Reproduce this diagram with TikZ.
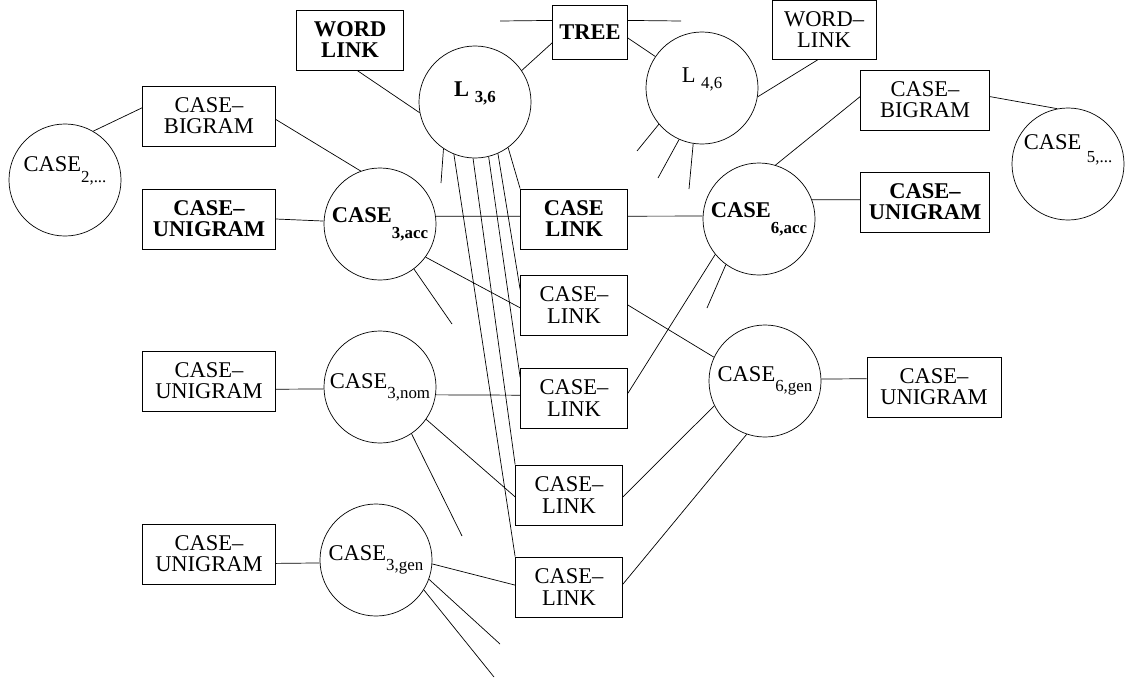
\documentclass[tikz,border=0pt]{standalone}
\usepackage{fontspec}
\setmainfont{Liberation Serif}
\newcommand{\lowsub}[2][0.45em]{\raisebox{-#1}{\fontsize{12pt}{12pt}\selectfont #2}}

\begin{document}
\begin{tikzpicture}[x = 0.025cm, y = -0.025cm, line width = 0.5pt,
  every node/.style = {font = \fontsize{16pt}{15pt}\selectfont, inner sep = 0pt},
  bold/.style = {font = \fontsize{16pt}{15pt}\selectfont\bfseries},
  rect/.style = {draw, rectangle, align = center, minimum height = 1.5cm},
  circ/.style = {draw, circle, minimum size = 2.8cm}]
\useasboundingbox (0, 0) rectangle (1138, 678);

\node[rect, bold, minimum width = 2.675cm] (wordlinkb) at (350, 40) {WORD\\LINK};
\node[rect, bold, minimum width = 1.875cm, minimum height = 1.35cm] (tree) at (590, 32) {TREE};
\node[rect, minimum width = 2.6cm, minimum height = 1.475cm] (wordlink) at (824, 30) {WORD--\\LINK};
\node[circ, bold] (lthreesix) at (475, 102) {\raisebox{4pt}[0pt][0pt]{L \lowsub[0.27em]{3,6}}\hspace{10pt}};
\node[circ] (lfoursix) at (702, 88) {\raisebox{4pt}[0pt][0pt]{L \lowsub[0.27em]{4,6}}};

\node[circ] (casetwo) at (65, 180) {\raisebox{6pt}[0pt][0pt]{CASE\lowsub[0.5em]{2,...}}\hspace{11pt}};
\node[rect, minimum width = 3.325cm] (bigraml) at (209, 116) {CASE--\\BIGRAM};
\node[rect, bold, minimum width = 3.325cm] (unigramlb) at (209, 219) {CASE--\\UNIGRAM};
\node[rect, minimum width = 3.325cm] (unigraml1) at (209, 381) {CASE--\\UNIGRAM};
\node[rect, minimum width = 3.325cm] (unigraml2) at (209, 554) {CASE--\\UNIGRAM};

\node[circ, bold] (casethreeacc) at (380, 224) {CASE\lowsub[0.7em]{3,acc}};
\node[circ] (casethreenom) at (380, 387) {CASE\lowsub{3,nom}};
\node[circ] (casethreegen) at (376, 560) {CASE\lowsub{3,gen}};

\node[rect, bold, minimum width = 2.675cm] (caselinkb) at (574, 219) {CASE\\LINK};
\node[rect, minimum width = 2.675cm] (caselink2) at (574, 305) {CASE--\\LINK};
\node[rect, minimum width = 2.675cm] (caselink3) at (574, 398) {CASE--\\LINK};
\node[rect, minimum width = 2.675cm] (caselink4) at (569, 495) {CASE--\\LINK};
\node[rect, minimum width = 2.675cm] (caselink5) at (569, 587) {CASE--\\LINK};

\node[circ, bold] (casesixacc) at (759, 219) {CASE\lowsub[0.7em]{6,acc}};
\node[circ] (casesixgen) at (765, 381) {CASE\lowsub{6,gen}};
\node[rect, minimum width = 3.225cm] (bigramr) at (925, 100) {CASE--\\BIGRAM};
\node[rect, bold, minimum width = 3.225cm] (unigramrb) at (925, 202) {CASE--\\UNIGRAM};
\node[rect, minimum width = 3.35cm] (unigramr) at (934, 387) {CASE--\\UNIGRAM};
\node[circ] (casefive) at (1068, 164) {\raisebox{10pt}[0pt][0pt]{CASE \lowsub[0.55em]{5,...}}};

\coordinate (treeleft) at (500, 21);
\coordinate (treeright) at (681, 21);
\coordinate (lthreesixstub) at (441, 183);
\coordinate (lfoursixstub1) at (637, 151);
\coordinate (lfoursixstub2) at (658, 178);
\coordinate (lfoursixstub3) at (689, 189);
\coordinate (accstub) at (452, 324);
\coordinate (nomstub) at (462, 536);
\coordinate (genstub1) at (500, 644);
\coordinate (genstub2) at (494, 677);
\coordinate (sixaccstub) at (707, 308);

\draw (wordlinkb.-77) -- (lthreesix.191);
\draw (lthreesix.34) -- (tree.196);
\draw (tree.-9) -- (lfoursix.146);
\draw (tree.163) -- (treeleft);
\draw (tree.17) -- (treeright);
\draw (wordlink.-102) -- (lfoursix.-9);
\draw (lfoursix.220) -- (lfoursixstub1);
\draw (lfoursix.246) -- (lfoursixstub2);
\draw (lfoursix.261) -- (lfoursixstub3);

\draw (lthreesix.236) -- (lthreesixstub);
\draw (lthreesix.248) -- (caselink5.north west);
\draw (lthreesix.268) -- (caselink4.north west);
\draw (lthreesix.284) -- (caselink3.159);
\draw (lthreesix.294) -- (caselink2.164);
\draw (lthreesix.306) -- (caselinkb.north west);

\draw (casetwo.60) -- (bigraml.173);
\draw (bigraml.-3) -- (casethreeacc.110);
\draw (unigramlb.east) -- (casethreeacc.177);
\draw (unigraml1.-7) -- (casethreenom.182);
\draw (unigraml2.-8) -- (casethreegen.183);

\draw (casethreeacc.8) -- (caselinkb.177);
\draw (casethreeacc.-36) -- (caselink2.183);
\draw (casethreeacc.-53) -- (accstub);
\draw (casethreenom.-8) -- (caselink3.177);
\draw (casethreenom.-35) -- (caselink4.182);
\draw (casethreenom.-56) -- (nomstub);
\draw (casethreegen.-4) -- (caselink5.178);
\draw (casethreegen.-20) -- (genstub1);
\draw (casethreegen.-32) -- (genstub2);

\draw (caselinkb.3) -- (casesixacc.177);
\draw (caselink2.east) -- (casesixgen.155);
\draw (caselink3.5) -- (casesixacc.219);
\draw (caselink4.-2) -- (casesixgen.206);
\draw (caselink5.3) -- (casesixgen.251);
\draw (casesixacc.234) -- (sixaccstub);

\draw (casesixacc.73) -- (bigramr.177);
\draw (casesixacc.20) -- (unigramrb.178);
\draw (bigramr.3) -- (casefive.101);
\draw (casesixgen.2) -- (unigramr.173);
\end{tikzpicture}
\end{document}
